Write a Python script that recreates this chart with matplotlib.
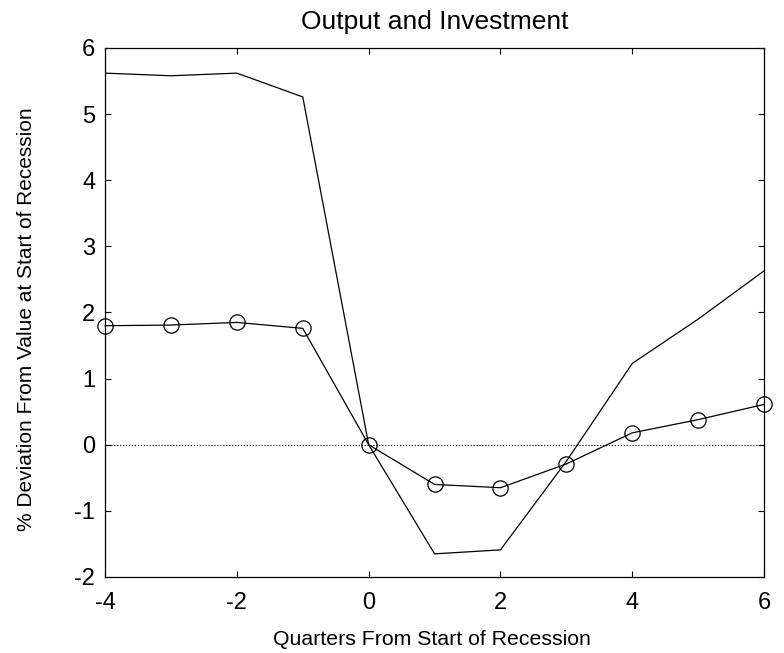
import numpy as np
import matplotlib.pyplot as plt

plt.rcParams['font.family'] = ['Liberation Sans', 'DejaVu Sans']
plt.rcParams['axes.unicode_minus'] = False

quarters = [-4, -3, -2, -1, 0, 1, 2, 3, 4, 5, 6]
output = [1.80, 1.81, 1.85, 1.76, 0.0, -0.60, -0.65, -0.29, 0.18, 0.38, 0.61]
investment = [5.62, 5.58, 5.62, 5.26, 0.0, -1.65, -1.59, -0.25, 1.23, 1.90, 2.63]

fig = plt.figure(figsize=(7.84, 6.53), dpi=100)
ax = fig.add_axes([0.134, 0.1164, 0.8406, 0.8101])

ax.plot(quarters, investment, color='black', linewidth=0.9)
ax.plot(quarters, output, color='black', linewidth=0.9, marker='o',
        markersize=11, markerfacecolor='none', markeredgewidth=0.9, clip_on=False)
ax.axhline(0, color='black', linestyle=':', linewidth=0.8)

ax.set_xlim(-4, 6)
ax.set_ylim(-2, 6)
ax.set_xticks([-4, -2, 0, 2, 4, 6])
ax.set_yticks(range(-2, 7))
ax.tick_params(direction='in', top=True, right=True, labelsize=17, length=4.5, width=0.8)
ax.tick_params(axis='x', pad=11)
ax.tick_params(axis='y', pad=7)
for s in ax.spines.values():
    s.set_linewidth(0.9)

ax.set_title('Output and Investment', fontsize=19, pad=14)
ax.set_xlabel('Quarters From Start of Recession', fontsize=15.3)
ax.set_ylabel('% Deviation From Value at Start of Recession', fontsize=15)
ax.xaxis.set_label_coords(0.496, -0.101)
ax.yaxis.set_label_coords(-0.105, 0.488)

fig.savefig('out.png', dpi=100)
